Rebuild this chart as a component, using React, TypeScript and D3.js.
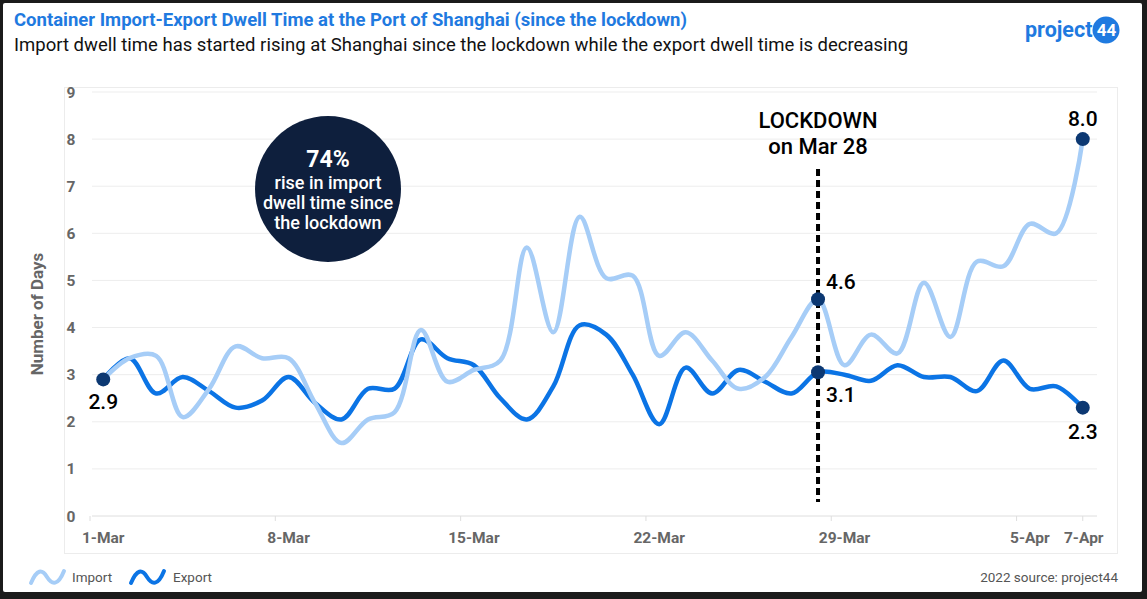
import React from "react";
import * as d3 from "d3";

// one entry per day, 1-Mar .. 7-Apr
const days = [
  "1-Mar", "2-Mar", "3-Mar", "4-Mar", "5-Mar", "6-Mar", "7-Mar", "8-Mar", "9-Mar", "10-Mar",
  "11-Mar", "12-Mar", "13-Mar", "14-Mar", "15-Mar", "16-Mar", "17-Mar", "18-Mar", "19-Mar", "20-Mar",
  "21-Mar", "22-Mar", "23-Mar", "24-Mar", "25-Mar", "26-Mar", "27-Mar", "28-Mar", "29-Mar", "30-Mar",
  "31-Mar", "1-Apr", "2-Apr", "3-Apr", "4-Apr", "5-Apr", "6-Apr", "7-Apr",
];

const importDwell = [
  2.9, 3.35, 3.4, 2.1, 2.7, 3.6, 3.35, 3.35, 2.4, 1.55,
  2.05, 2.2, 3.95, 2.85, 3.1, 3.3, 5.7, 3.9, 6.35, 5.05,
  5.1, 3.4, 3.9, 3.3, 2.7, 2.95, 3.8, 4.6, 3.2, 3.85,
  3.45, 4.95, 3.8, 5.4, 5.3, 6.2, 6.0, 8.0,
];

const exportDwell = [
  2.9, 3.35, 2.6, 2.95, 2.65, 2.3, 2.45, 2.95, 2.4, 2.05,
  2.7, 2.7, 3.75, 3.35, 3.2, 2.5, 2.05, 2.75, 4.05, 3.85,
  3.0, 1.95, 3.15, 2.6, 3.1, 2.85, 2.6, 3.05, 3.0, 2.87,
  3.2, 2.95, 2.95, 2.65, 3.3, 2.7, 2.75, 2.3,
];

const xTickLabels = ["1-Mar", "8-Mar", "15-Mar", "22-Mar", "29-Mar", "5-Apr", "7-Apr"];
const yTicks = [0, 1, 2, 3, 4, 5, 6, 7, 8, 9];
const lockdownDay = "28-Mar";

const W = 1147;
const H = 599;
const FONT = "Roboto, 'Noto Sans', sans-serif";
const TITLE_BLUE = "#1f7ae0";
const IMPORT_COLOR = "#a6cdf7";
const EXPORT_COLOR = "#0b74e5";
const DOT_COLOR = "#0c3872";
const AXIS_TEXT = "#666666";

export default function App() {
  const x = d3.scalePoint<string>().domain(days).range([90, 1096]).padding(0.5);
  const y = d3.scaleLinear().domain([0, 9]).range([516, 92]);
  const step = x.step();

  const line = d3
    .line<number>()
    .x((_, i) => x(days[i]) as number)
    .y((d) => y(d))
    .curve(d3.curveCatmullRom.alpha(0.5));

  const last = days.length - 1;
  const lx = x(lockdownDay) as number;
  const li = days.indexOf(lockdownDay);

  const tickX = (d: string) =>
    d === days[last] ? (x(d) as number) : (x(d) as number) - step / 2;

  return (
    <svg
      width={W}
      height={H}
      style={{ position: "absolute", left: 0, top: 0, display: "block" }}
      fontFamily={FONT}
    >
      {/* frame */}
      <rect x={0} y={0} width={W} height={H} fill="#1b1b1b" />
      <rect x={3} y={3} width={1139} height={589} fill="#ffffff" rx={2} />

      {/* titles */}
      <text x={14} y={26} fontSize={18.5} fontWeight="bold" fill={TITLE_BLUE}>
        Container Import-Export Dwell Time at the Port of Shanghai (since the lockdown)
      </text>
      <text x={14} y={51} fontSize={18.5} fill="#111">
        Import dwell time has started rising at Shanghai since the lockdown while the export dwell time is decreasing
      </text>

      {/* logo */}
      <circle cx={1106} cy={30} r={13.5} fill={TITLE_BLUE} />
      <text x={1025} y={37} fontSize={21.5} fontWeight="bold" fill={TITLE_BLUE}>
        project
      </text>
      <text x={1106.5} y={36} fontSize={17} fontWeight="bold" fill="#fff" textAnchor="middle">
        44
      </text>

      {/* chart panel */}
      <rect x={64.5} y={87.5} width={1053} height={466} fill="none" stroke="#ececec" />

      {/* grid + y labels */}
      {yTicks.map((t) => (
        <g key={t}>
          <line x1={92} x2={1097} y1={y(t)} y2={y(t)} stroke={t === 0 ? "#dedede" : "#ededed"} strokeWidth={1} />
          <text x={71} y={y(t) + 5.5} fontSize={15.5} fontWeight="bold" fill={AXIS_TEXT} textAnchor="middle">
            {t}
          </text>
        </g>
      ))}
      <text
        transform={`translate(43,${(y(0) + y(9)) / 2 + 10}) rotate(-90)`}
        fontSize={17}
        fontWeight="bold"
        fill={AXIS_TEXT}
        textAnchor="middle"
      >
        Number of Days
      </text>

      {/* x ticks + labels */}
      {xTickLabels.map((d) => (
        <g key={d}>
          <line x1={tickX(d)} x2={tickX(d)} y1={516} y2={521} stroke="#dedede" />
          <text
            x={d === days[last] ? (x(d) as number) + 1 : (x(d) as number)}
            y={543}
            fontSize={15.5}
            fontWeight="bold"
            fill={AXIS_TEXT}
            textAnchor="middle"
          >
            {d}
          </text>
        </g>
      ))}

      {/* annotation bubble */}
      <circle cx={328} cy={189} r={73} fill="#0e1f3d" />
      <text x={328} y={167} fontSize={23} fontWeight="bold" fill="#fff" textAnchor="middle">
        74%
      </text>
      <text fontSize={18} fontWeight={500} fill="#fff" textAnchor="middle">
        <tspan x={328} y={189}>rise in import</tspan>
        <tspan x={328} y={209}>dwell time since</tspan>
        <tspan x={328} y={229}>the lockdown</tspan>
      </text>

      {/* lockdown marker */}
      <line x1={lx} x2={lx} y1={169} y2={502} stroke="#000" strokeWidth={4} strokeDasharray="7 4" />
      <text x={lx} y={128} fontSize={22} fontWeight={500} fill="#000" textAnchor="middle">
        LOCKDOWN
      </text>
      <text x={lx} y={154} fontSize={22} fontWeight={500} fill="#000" textAnchor="middle">
        on Mar 28
      </text>

      {/* series */}
      <path d={line(exportDwell) || ""} fill="none" stroke={EXPORT_COLOR} strokeWidth={4.5} strokeLinecap="round" />
      <path d={line(importDwell) || ""} fill="none" stroke={IMPORT_COLOR} strokeWidth={4.5} strokeLinecap="round" />

      {/* highlighted points */}
      <circle cx={x(days[0])} cy={y(importDwell[0])} r={7} fill={DOT_COLOR} />
      <circle cx={lx} cy={y(importDwell[li])} r={7} fill={DOT_COLOR} />
      <circle cx={lx} cy={y(exportDwell[li])} r={7} fill={DOT_COLOR} />
      <circle cx={x(days[last])} cy={y(importDwell[last])} r={7} fill={DOT_COLOR} />
      <circle cx={x(days[last])} cy={y(exportDwell[last])} r={7} fill={DOT_COLOR} />

      <g fontSize={21} fill="#000" fontWeight={500}>
        <text x={x(days[0])} y={y(importDwell[0]) + 30} textAnchor="middle">
          {importDwell[0].toFixed(1)}
        </text>
        <text x={lx + 8} y={y(importDwell[li]) - 10}>
          {importDwell[li].toFixed(1)}
        </text>
        <text x={lx + 8} y={y(exportDwell[li]) + 30}>
          {(3.1).toFixed(1)}
        </text>
        <text x={x(days[last])} y={y(importDwell[last]) - 13} textAnchor="middle">
          {importDwell[last].toFixed(1)}
        </text>
        <text x={x(days[last])} y={y(exportDwell[last]) + 31} textAnchor="middle">
          {exportDwell[last].toFixed(1)}
        </text>
      </g>

      {/* legend */}
      <path d="M31,583 C37,569 42,569 47,577 S58,586 64,571" fill="none" stroke={IMPORT_COLOR} strokeWidth={4} strokeLinecap="round" />
      <text x={72} y={582} fontSize={13.5} fill="#555">Import</text>
      <path d="M131,583 C137,569 142,569 147,577 S158,586 164,571" fill="none" stroke={EXPORT_COLOR} strokeWidth={4} strokeLinecap="round" />
      <text x={173} y={582} fontSize={13.5} fill="#555">Export</text>

      <text x={1118} y={582} fontSize={13.5} fill="#555" textAnchor="end">
        2022 source: project44
      </text>
    </svg>
  );
}
